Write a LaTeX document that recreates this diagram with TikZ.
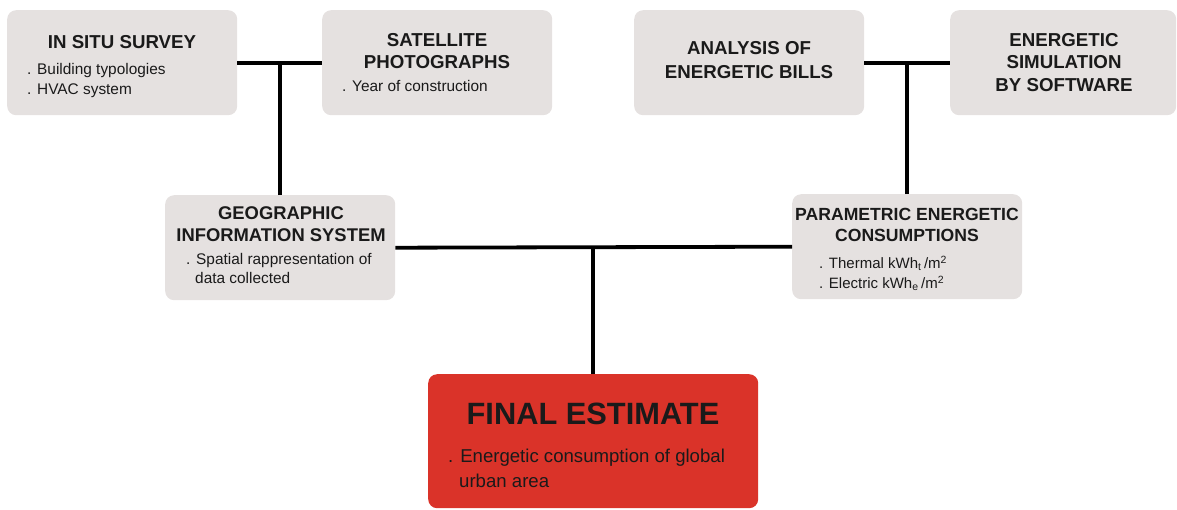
\documentclass[tikz,border=0pt]{standalone}
\usepackage{fontspec}
\setmainfont{Liberation Sans}
\definecolor{boxgray}{HTML}{E5E1E0}
\definecolor{finalred}{HTML}{DA3329}
\definecolor{ink}{HTML}{1A1A1A}
\tikzset{
 box/.style={fill=boxgray, rounded corners=9pt, anchor=north west, minimum width=230pt, minimum height=105pt, inner sep=0pt},
 ttl/.style={font=\fontsize{18.7}{22.5}\selectfont\bfseries, align=center, anchor=north, inner sep=0pt, text=ink},
 bul/.style={font=\fontsize{15.4}{19.5}\selectfont, align=left, anchor=north west, inner sep=0pt, text=ink},
 conn/.style={line width=3.8pt, black}
}
\begin{document}
\begin{tikzpicture}[x=1pt,y=-1pt]
\useasboundingbox (0,0) rectangle (1177,509);
% boxes
\node[box] (insitu) at (7,10) {};
\node[box] (sat) at (322,10) {};
\node[box] (bills) at (634,10) {};
\node[box, minimum width=226pt] (sim) at (950,10) {};
\node[box] (gis) at (165,195) {};
\node[box] (param) at (792,194) {};
\node[box, fill=finalred, minimum width=330pt, minimum height=134pt] (final) at (428,374) {};
% connectors
\draw[conn] (insitu.east) -- (sat.west);
\draw[conn] (gis.north) -- (gis.north |- insitu.east);
\draw[conn] (bills.east) -- (sim.west);
\draw[conn] (param.north) -- (param.north |- bills.east);
\draw[conn] (gis.east) -- (param.west);
\draw[conn] (final.north) -- (final.north |- gis.east);
% texts
\node[ttl] (t1) at (122,35) {IN SITU SURVEY};
\node[bul, font=\fontsize{15.4}{20}\selectfont] (b1) at (27,63) {. Building typologies\\. HVAC system};
\node[ttl] (t2) at (437,33) {SATELLITE\\PHOTOGRAPHS};
\node[bul] (b2) at (342,80) {. Year of construction};
\node[ttl, font=\fontsize{18.7}{24}\selectfont\bfseries] (t3) at (749,41) {ANALYSIS OF\\ENERGETIC BILLS};
\node[ttl] (t4) at (1064,33) {ENERGETIC\\SIMULATION\\BY SOFTWARE};
\node[ttl, font=\fontsize{18.4}{22.5}\selectfont\bfseries] (t5) at (281,206) {GEOGRAPHIC\\INFORMATION SYSTEM};
\node[bul, font=\fontsize{15.4}{19}\selectfont] (b5) at (186,253) {. Spatial rappresentation of\\\hspace*{9pt}data collected};
\node[ttl, font=\fontsize{17.6}{21.5}\selectfont\bfseries] (t6) at (907,208) {PARAMETRIC ENERGETIC\\CONSUMPTIONS};
\node[bul, font=\fontsize{15}{19.5}\selectfont] (b6) at (819,256) {. Thermal kWh\textsubscript{t}\,/m\textsuperscript{2}\\. Electric kWh\textsubscript{e}\,/m\textsuperscript{2}};
\node[ttl, font=\fontsize{30.8}{36}\selectfont\bfseries] (t7) at (593,403) {FINAL ESTIMATE};
\node[bul, font=\fontsize{18.6}{25}\selectfont] (b7) at (448,449) {. Energetic consumption of global\\\hspace*{11pt}urban area};
\end{tikzpicture}
\end{document}
